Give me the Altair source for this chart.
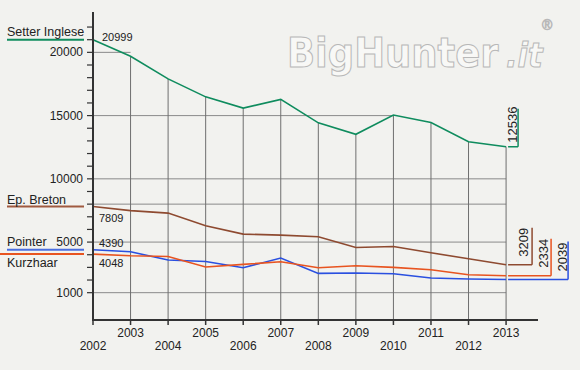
import altair as alt
import pandas as pd

# ---------------- data ----------------
years = list(range(2002, 2014))
setter = [20999, 19690, 17900, 16480, 15590, 16280, 14430, 13520, 15040, 14460, 12930, 12536]
breton = [7809, 7490, 7290, 6285, 5630, 5550, 5420, 4575, 4650, 4155, 3680, 3209]
pointer = [4390, 4235, 3580, 3470, 2970, 3740, 2525, 2555, 2500, 2160, 2080, 2039]
kurzhaar = [4048, 3920, 3865, 3030, 3235, 3450, 2975, 3130, 3000, 2815, 2420, 2334]
series_names = ["Setter Inglese", "Ep. Breton", "Pointer", "Kurzhaar"]
series_values = [setter, breton, pointer, kurzhaar]
y_tick_values = list(range(1000, 23000, 1000))
y_label_values = [1000, 5000, 10000, 15000, 20000]
grid_values = [20000, 15000, 10000, 8000, 5000, 1000]
grid_end_years = [2003, 2010, 2013, 2013, 2013, 2013]

# ---------------- styles / layout ----------------
colors = ["#0f8c5e", "#8e4a30", "#2a50e0", "#e85420"]
underline_colors = ["#0f8c5e", "#a05a40", "#4a6ee0", "#e85420"]
W, H = 445, 308
FONT = "Liberation Sans, Arial, sans-serif"
TXT = "#222222"
AXIS = "#333333"

xs = alt.Scale(domain=[2002, 2013.85], nice=False, zero=False)
ys = alt.Scale(domain=[-1160, 23190], nice=False, zero=False)

rows = []
for name, vals in zip(series_names, series_values):
    for yr, v in zip(years, vals):
        rows.append({"series": name, "year": yr, "value": v})
df = pd.DataFrame(rows)

grid_df = pd.DataFrame({"value": grid_values, "x0": [years[0]] * len(grid_values), "x1": grid_end_years})
drop_df = pd.DataFrame({"year": years[1:], "value": setter[1:]})
year_df = pd.DataFrame({"year": years})
ytick_df = pd.DataFrame({"value": y_tick_values})
ylab_df = pd.DataFrame({"value": y_label_values})

X = lambda f: alt.X(f, scale=xs, axis=None)
Y = lambda f: alt.Y(f, scale=ys, axis=None)

base = alt.Chart(pd.DataFrame({"a": [0]}))

# horizontal grid
hgrid = alt.Chart(grid_df).mark_rule(color="#8a8a8a", strokeWidth=1).encode(
    x=X("x0:Q"), x2="x1:Q", y=Y("value:Q"))

# vertical drop lines from the top series
vgrid = alt.Chart(drop_df).mark_rule(color="#6f6f6f", strokeWidth=1).encode(
    x=X("year:Q"), y=Y("value:Q"), y2=alt.value(H))

lines = alt.Chart(df).mark_line(strokeWidth=1.6).encode(
    x=X("year:Q"), y=Y("value:Q"),
    color=alt.Color("series:N", scale=alt.Scale(domain=series_names, range=colors), legend=None),
    order="year:Q",
)

# axes drawn with marks
y_ticks = alt.Chart(ytick_df).mark_rule(color=AXIS, strokeWidth=1.2).encode(
    y=Y("value:Q"), x=alt.value(-6), x2=alt.value(0))
y_labels = alt.Chart(ylab_df).mark_text(font=FONT, fontSize=12, color=TXT, align="right",
                                        baseline="middle").encode(
    y=Y("value:Q"), x=alt.value(-10), text=alt.Text("value:Q", format="d"))
x_ticks = alt.Chart(year_df).mark_rule(color=AXIS, strokeWidth=1.5).encode(
    x=X("year:Q"), y=alt.value(H), y2=alt.value(H + 5))
domain_y = base.mark_rule(color=AXIS, strokeWidth=2).encode(
    x=alt.value(0), y=alt.value(0), y2=alt.value(H + 1))
domain_x = base.mark_rule(color=AXIS, strokeWidth=2).encode(
    y=alt.value(H), x=alt.value(-1), x2=alt.value(W))

# year labels, alternating rows
odd_labels = alt.Chart(year_df).transform_filter("datum.year % 2 == 1").mark_text(
    font=FONT, fontSize=12, color=TXT, baseline="middle", align="center").encode(
    x=X("year:Q"), y=alt.value(H + 13), text="year:N")
even_labels = alt.Chart(year_df).transform_filter("datum.year % 2 == 0").mark_text(
    font=FONT, fontSize=12, color=TXT, baseline="middle", align="center").encode(
    x=X("year:Q"), y=alt.value(H + 25.5), text="year:N")

layers = [hgrid, vgrid, lines, y_ticks, y_labels, x_ticks, domain_y, domain_x, odd_labels, even_labels]

# left-hand series names with coloured underlines, and first values
name_yoff = [-3.5, -3, -3.5, 13]
under_x0 = [-86, -86, -86, -93]
first_xoff = [9, 6, 6, 6]
first_yoff = [1, 15, -3, 13]
# right-hand end labels with brackets (setter, breton, pointer, kurzhaar)
end_text_xoff = [11, 22, 61, 42]
end_text_yoff = [-4, -8, -8, -8]
bracket_x = [12, 26, 62, 45]
bracket_h = [38, 37, 38, 37]

for i, (name, vals) in enumerate(zip(series_names, series_values)):
    first, last = vals[0], vals[-1]
    layers.append(base.mark_rule(strokeWidth=2, color=underline_colors[i]).encode(
        x=alt.value(under_x0[i]), x2=alt.value(-9), y=alt.Y(datum=first, scale=ys, axis=None)))
    layers.append(base.mark_text(font=FONT, fontSize=12.5, color=TXT, align="left",
                                 baseline="alphabetic", yOffset=name_yoff[i]).encode(
        x=alt.value(-86), y=alt.Y(datum=first, scale=ys, axis=None),
        text=alt.value(name)))
    layers.append(base.mark_text(font=FONT, fontSize=11, color=TXT, align="left",
                                 baseline="alphabetic", xOffset=first_xoff[i], yOffset=first_yoff[i]).encode(
        x=alt.X(datum=years[0], scale=xs, axis=None), y=alt.Y(datum=first, scale=ys, axis=None),
        text=alt.value(str(first))))
    layers.append(base.mark_rule(strokeWidth=1.5, color=colors[i], xOffset=2, x2Offset=bracket_x[i]).encode(
        x=alt.X(datum=years[-1], scale=xs, axis=None), x2=alt.X2(datum=years[-1]),
        y=alt.Y(datum=last, scale=ys, axis=None)))
    layers.append(base.mark_rule(strokeWidth=1.5, color=colors[i], xOffset=bracket_x[i],
                                 y2Offset=-bracket_h[i]).encode(
        x=alt.X(datum=years[-1], scale=xs, axis=None),
        y=alt.Y(datum=last, scale=ys, axis=None), y2=alt.Y2(datum=last)))
    layers.append(base.mark_text(font=FONT, fontSize=13, color=TXT, align="left", baseline="alphabetic",
                                 angle=270, xOffset=end_text_xoff[i], yOffset=end_text_yoff[i]).encode(
        x=alt.X(datum=years[-1], scale=xs, axis=None), y=alt.Y(datum=last, scale=ys, axis=None),
        text=alt.value(str(last))))

# watermark
WM_FONT = "DejaVu Sans Condensed, DejaVu Sans, sans-serif"
layers.append(base.mark_text(font=WM_FONT, fontSize=41, fontWeight="bold", fill="#f8f8f6",
                             stroke="#b8b8b8", strokeWidth=1, align="left", baseline="alphabetic").encode(
    x=alt.value(194), y=alt.value(55), text=alt.value("BigHunter")))
layers.append(base.mark_text(font=WM_FONT, fontSize=34, fontWeight="bold", fontStyle="italic", fill="#f8f8f6",
                             stroke="#b8b8b8", strokeWidth=1, align="left", baseline="alphabetic").encode(
    x=alt.value(413), y=alt.value(55), text=alt.value(".it")))
layers.append(base.mark_text(font=FONT, fontSize=14, fill="#f8f8f6", stroke="#b8b8b8", strokeWidth=0.8,
                             align="left", baseline="alphabetic").encode(
    x=alt.value(449), y=alt.value(18), text=alt.value("®")))

chart = alt.layer(*layers).properties(
    width=W, height=H,
    autosize=alt.AutoSizeParams(type="none"),
    padding={"left": 93, "top": 12, "right": 42, "bottom": 50},
    background="#f2f2ef",
).configure_view(stroke=None)

chart.save("out.html", embed_options={"renderer": "svg", "actions": False})
